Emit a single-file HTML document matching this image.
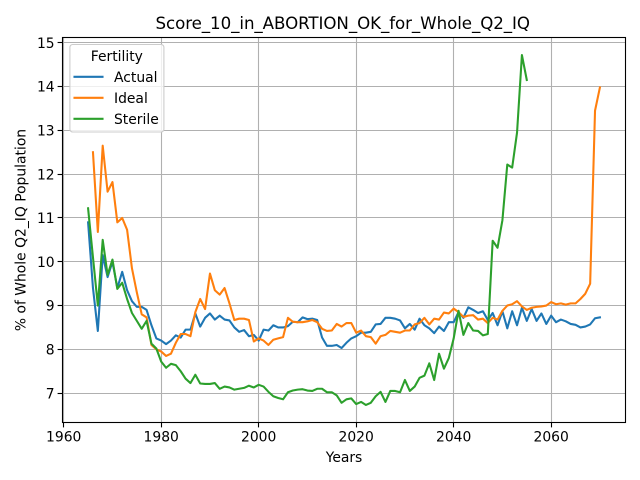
<!DOCTYPE html>
<html>
<head>
<meta charset="utf-8">
<style>
html,body{margin:0;padding:0;background:#fff;}
svg{display:block;font-family:"DejaVu Sans","Liberation Sans",sans-serif;}
</style>
</head>
<body>
<svg id="chart" xmlns="http://www.w3.org/2000/svg" width="640" height="480" viewBox="0 0 640 480"></svg>
<script>
const years = [1965,1966,1967,1968,1969,1970,1971,1972,1973,1974,1975,1976,1977,1978,1979,1980,1981,1982,1983,1984,1985,1986,1987,1988,1989,1990,1991,1992,1993,1994,1995,1996,1997,1998,1999,2000,2001,2002,2003,2004,2005,2006,2007,2008,2009,2010,2011,2012,2013,2014,2015,2016,2017,2018,2019,2020,2021,2022,2023,2024,2025,2026,2027,2028,2029,2030,2031,2032,2033,2034,2035,2036,2037,2038,2039,2040,2041,2042,2043,2044,2045,2046,2047,2048,2049,2050,2051,2052,2053,2054,2055,2056,2057,2058,2059,2060,2061,2062,2063,2064,2065,2066,2067,2068,2069,2070];
const actual = [10.9,9.4,8.42,10.15,9.65,10.0,9.4,9.77,9.35,9.1,8.97,8.97,8.9,8.55,8.25,8.2,8.12,8.2,8.32,8.27,8.45,8.45,8.82,8.52,8.72,8.82,8.68,8.77,8.68,8.66,8.5,8.4,8.44,8.3,8.33,8.2,8.45,8.43,8.55,8.5,8.5,8.53,8.63,8.62,8.73,8.69,8.7,8.67,8.27,8.08,8.08,8.1,8.03,8.15,8.25,8.3,8.38,8.38,8.4,8.57,8.58,8.72,8.72,8.7,8.66,8.48,8.58,8.45,8.7,8.55,8.48,8.37,8.52,8.42,8.62,8.62,8.85,8.72,8.96,8.9,8.83,8.87,8.67,8.83,8.55,8.87,8.48,8.87,8.55,8.95,8.65,8.92,8.65,8.82,8.58,8.77,8.62,8.68,8.64,8.58,8.56,8.5,8.52,8.57,8.71,8.73];
const ideal = [null,12.5,10.68,12.65,11.6,11.82,10.9,11.0,10.73,9.85,9.3,8.8,8.73,8.1,8.0,7.95,7.85,7.9,8.15,8.35,8.35,8.3,8.85,9.15,8.92,9.73,9.35,9.25,9.4,9.05,8.67,8.7,8.7,8.67,8.18,8.25,8.2,8.1,8.22,8.25,8.28,8.72,8.63,8.62,8.62,8.64,8.67,8.62,8.47,8.42,8.43,8.58,8.52,8.6,8.6,8.38,8.43,8.3,8.28,8.13,8.3,8.33,8.42,8.4,8.38,8.43,8.43,8.57,8.6,8.72,8.57,8.7,8.68,8.84,8.82,8.93,8.85,8.74,8.77,8.78,8.68,8.7,8.6,8.72,8.68,8.88,9.0,9.03,9.1,8.98,8.9,8.95,8.97,8.98,9.0,9.08,9.03,9.05,9.02,9.05,9.05,9.15,9.27,9.5,13.45,13.98];
const sterile = [11.22,10.1,9.0,10.5,9.7,10.05,9.38,9.52,9.15,8.83,8.65,8.47,8.65,8.13,8.02,7.72,7.58,7.67,7.64,7.5,7.33,7.23,7.42,7.22,7.21,7.21,7.23,7.1,7.15,7.13,7.08,7.1,7.12,7.17,7.13,7.19,7.15,7.03,6.93,6.89,6.86,7.02,7.06,7.08,7.09,7.06,7.05,7.1,7.1,7.02,7.02,6.95,6.78,6.86,6.88,6.75,6.8,6.73,6.78,6.93,7.03,6.8,7.05,7.05,7.02,7.3,7.05,7.15,7.35,7.4,7.68,7.3,7.9,7.56,7.8,8.25,8.88,8.33,8.6,8.43,8.42,8.32,8.35,10.48,10.32,10.95,12.22,12.15,12.95,14.72,14.15];
const xTicks = [1960,1980,2000,2020,2040,2060];
const yTicks = [7,8,9,10,11,12,13,14,15];

const NS = 'http://www.w3.org/2000/svg';
const svg = document.getElementById('chart');
const plot = {left: 62.5, right: 625.5, top: 37.5, bottom: 422.5};
const xDomain = [1959.75, 2075.25];
const yDomain = [6.33, 15.12];
function xScale(v) {
  return plot.left + (v - xDomain[0]) / (xDomain[1] - xDomain[0]) * (plot.right - plot.left);
}
function yScale(v) {
  return plot.bottom - (v - yDomain[0]) / (yDomain[1] - yDomain[0]) * (plot.bottom - plot.top);
}
function make(tag, attrs, text) {
  const el = document.createElementNS(NS, tag);
  for (const k in attrs) el.setAttribute(k, attrs[k]);
  if (text !== undefined) el.textContent = text;
  svg.appendChild(el);
  return el;
}

/* grid */
xTicks.forEach(function (t) {
  const x = Math.round(xScale(t) - 0.5) + 0.5;
  const g = make('line', {x1: x, x2: x, y1: plot.top, y2: plot.bottom, stroke: '#b0b0b0', 'stroke-width': 1.1});
  
  
});
yTicks.forEach(function (t) {
  const y = Math.round(yScale(t) - 0.5) + 0.5;
  const g = make('line', {x1: plot.left, x2: plot.right, y1: y, y2: y, stroke: '#b0b0b0', 'stroke-width': 1.1});
  
  
});

/* series */
function drawSeries(values, color, name) {
  let d = '';
  values.forEach(function (v, i) {
    if (v === null) return;
    d += (d ? 'L' : 'M') + xScale(years[i]).toFixed(2) + ' ' + yScale(v).toFixed(2);
  });
  const p = make('path', {d: d, fill: 'none', stroke: color, 'stroke-width': 2.08, 'stroke-linejoin': 'round', 'stroke-linecap': 'square'});
  
  
}
drawSeries(actual, '#1f77b4', 'series-actual');
drawSeries(ideal, '#ff7f0e', 'series-ideal');
drawSeries(sterile, '#2ca02c', 'series-sterile');

/* ticks and labels */
xTicks.forEach(function (t) {
  const x = Math.round(xScale(t) - 0.5) + 0.5;
  const m = make('line', {x1: x, x2: x, y1: plot.bottom, y2: plot.bottom + 4.9, stroke: '#000', 'stroke-width': 1.1});
  
  
  const l = make('text', {x: xScale(t), y: 441.5, 'font-size': 13.89, 'text-anchor': 'middle', fill: '#000'}, String(t));
  
  
});
yTicks.forEach(function (t) {
  const y = Math.round(yScale(t) - 0.5) + 0.5;
  const m = make('line', {x1: plot.left - 4.9, x2: plot.left, y1: y, y2: y, stroke: '#000', 'stroke-width': 1.1});
  
  
  const l = make('text', {x: 54.6, y: yScale(t) + 5.1, 'font-size': 13.89, 'text-anchor': 'end', fill: '#000'}, String(t));
  
  
});

/* frame */
const frame = make('rect', {x: plot.left, y: plot.top, width: plot.right - plot.left, height: plot.bottom - plot.top, fill: 'none', stroke: '#000', 'stroke-width': 1.1});



/* titles */
const title = make('text', {x: 155.5, y: 29, 'font-size': 16.67, textLength: 374.5, lengthAdjust: 'spacing', fill: '#000'}, 'Score_10_in_ABORTION_OK_for_Whole_Q2_IQ');


const xTitle = make('text', {x: 344, y: 462, 'font-size': 13.89, 'text-anchor': 'middle', fill: '#000'}, 'Years');


const yTitle = make('text', {x: 0, y: 0, 'font-size': 13.89, 'text-anchor': 'middle', fill: '#000', transform: 'translate(25.5 230) rotate(-90)'}, '% of Whole Q2_IQ Population');



/* legend */
const legendBox = make('rect', {x: 69.9, y: 44.5, width: 94, height: 87.5, rx: 2.8, ry: 2.8, fill: '#fff', 'fill-opacity': 0.8, stroke: '#cccccc', 'stroke-width': 1.1});


const legendTitle = make('text', {x: 116.8, y: 61, 'font-size': 13.89, 'text-anchor': 'middle', fill: '#000'}, 'Fertility');


[['Actual', '#1f77b4', 76.8], ['Ideal', '#ff7f0e', 97.8], ['Sterile', '#2ca02c', 118.8]].forEach(function (e) {
  const sw = make('line', {x1: 74.5, x2: 102.5, y1: e[2], y2: e[2], stroke: e[1], 'stroke-width': 2.08, 'stroke-linecap': 'square'});
  
  
  const tx = make('text', {x: 114, y: e[2] + 5, 'font-size': 13.89, fill: '#000'}, e[0]);
  
  
});
</script>
</body>
</html>
